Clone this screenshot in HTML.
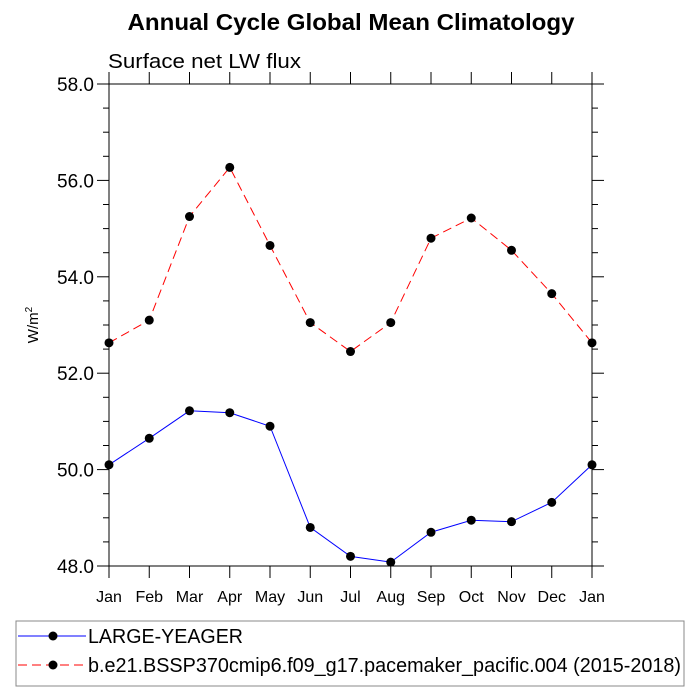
<!DOCTYPE html>
<html><head><meta charset="utf-8"><style>body{margin:0;background:#fff}svg{display:block;font-family:"Liberation Sans",sans-serif}</style></head>
<body>
<svg id="chart" width="700" height="700">
<text x="351" y="30" text-anchor="middle" font-size="23" font-weight="bold" textLength="447" lengthAdjust="spacingAndGlyphs">Annual Cycle Global Mean Climatology</text>
<text x="108" y="68" font-size="20" textLength="193" lengthAdjust="spacingAndGlyphs">Surface net LW flux</text>
<text transform="translate(38,325) rotate(-90)" text-anchor="middle" font-size="15">W/m<tspan dy="-6" font-size="10">2</tspan></text>
<rect x="109" y="84" width="483" height="482" fill="none" stroke="#000" stroke-width="1"/>
<g id="axes"></g>
<g id="series"></g>
<rect x="16" y="621" width="668" height="65" fill="none" stroke="#888"/>
<g>
<line x1="18" y1="636" x2="86" y2="636" stroke="#00f"/><circle cx="53" cy="636" r="4.5"/>
<text x="88" y="643" font-size="20" textLength="155" lengthAdjust="spacingAndGlyphs">LARGE-YEAGER</text></g>
<g>
<line x1="18" y1="665" x2="86" y2="665" stroke="#f00" stroke-dasharray="9,5"/><circle cx="53" cy="665" r="4.5"/>
<text x="88" y="672" font-size="20" textLength="593" lengthAdjust="spacingAndGlyphs">b.e21.BSSP370cmip6.f09_g17.pacemaker_pacific.004 (2015-2018)</text></g>
</svg>
<script>
const months=["Jan","Feb","Mar","Apr","May","Jun","Jul","Aug","Sep","Oct","Nov","Dec","Jan"];
const yTicks=[48,50,52,54,56,58];
const largeYeager=[50.1,50.65,51.22,51.18,50.9,48.8,48.2,48.08,48.7,48.95,48.92,49.32,50.1];
const pacemaker=[52.63,53.1,55.25,56.27,54.65,53.05,52.45,53.05,54.8,55.22,54.55,53.65,52.63];
const NS="http://www.w3.org/2000/svg";
const X0=109,X1=592,Y0=566,Y1=84,YMIN=48,YMAX=58;
const xs=i=>X0+(X1-X0)*i/(months.length-1);
const ys=v=>Y0-(Y0-Y1)*(v-YMIN)/(YMAX-YMIN);
function mk(t,a,p){const e=document.createElementNS(NS,t);for(const k in a)e.setAttribute(k,a[k]);p.appendChild(e);return e;}
const ax=document.getElementById('axes');
months.forEach((m,i)=>{
 const x=xs(i);
 const t1=mk('line',{x1:x,y1:Y0,x2:x,y2:Y0+12,stroke:'#000'},ax);
 
 
 mk('line',{x1:x,y1:Y1,x2:x,y2:Y1-12,stroke:'#000'},ax);
 const l=mk('text',{x:x,y:Y0+36,'text-anchor':'middle','font-size':'16'},ax);
 l.textContent=m;
 
 
});
for(let v=YMIN;v<=YMAX+1e-9;v+=0.5){
 const y=ys(v),major=Math.abs(v%2)<1e-9,len=major?12:6;
 mk('line',{x1:X0,y1:y,x2:X0-len,y2:y,stroke:'#000'},ax);
 mk('line',{x1:X1,y1:y,x2:X1+len,y2:y,stroke:'#000'},ax);
}
yTicks.forEach(v=>{
 const l=mk('text',{x:X0-15,y:ys(v)+7,'text-anchor':'end','font-size':'19'},ax);
 l.textContent=v.toFixed(1);
 
 
});
const sg=document.getElementById('series');
function draw(data,color,dash,name){
 const g=mk('g',{},sg);
 
 
 const pl=mk('polyline',{points:data.map((v,i)=>xs(i)+','+ys(v)).join(' '),fill:'none',stroke:color,'stroke-width':1},g);
 if(dash)pl.setAttribute('stroke-dasharray',dash);
 data.forEach((v,i)=>{
  const c=mk('circle',{cx:xs(i),cy:ys(v),r:4.5,fill:'#000'},g);
  
  
 });
}
draw(largeYeager,'#00f',null,'series-large-yeager');
draw(pacemaker,'#f00','9,5','series-pacemaker');
</script>
</body></html>
